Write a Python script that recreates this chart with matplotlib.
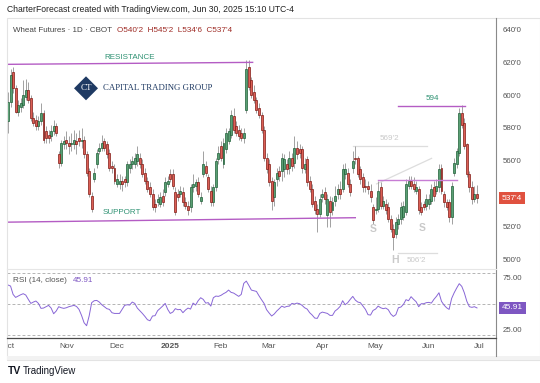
import matplotlib
matplotlib.use("Agg")
import matplotlib.pyplot as plt
import matplotlib.patches as mpatches
import matplotlib.transforms as mtransforms
from matplotlib.lines import Line2D
from matplotlib.ticker import FuncFormatter
import numpy as np
import pandas as pd

plt.rcParams['font.family'] = ['Liberation Sans', 'DejaVu Sans']

# ---------------- data ----------------
holidays = ['2024-11-28', '2024-12-25', '2025-01-01', '2025-01-09', '2025-01-20',
            '2025-02-17', '2025-04-18', '2025-05-26', '2025-06-19']

opens = [584,596,614,604,590,593,594,599,603,598,586,585,581,584,589,578,576,575,578,581,
         564,559,570,573,571,570,570,572,574,572,573,564,554,539,549,558,566,568,572,570,
         565,557,556,546,546,548,549,547,
         556,558,558,560,562,558,553,548,544,540,534,535,534,539,541,546,552,552,541,540,
         540,541,535,533,532,544,545,547,536,552,557,550,542,535,544,561,569,558,567,572,
         576,587,581,579,577,574,
         591,617,609,602,597,592,588,579,562,558,548,538,549,554,554,555,558,556,562,559,
         568,567,567,555,561,548,543,536,531,528,538,541,527,536,530,536,540,543,543,552,
         553,546,556,562,562,555,550,
         545,545,542,532,530,531,544,533,534,532,525,519,516,522,525,526,529,545,548,546,
         542,543,532,534,533,534,536,544,542,544,556,540,535,535,526,553,558,565,589,583,
         570,552,544,537,540.25]
highs = [602,616,617,606,597,598,609,610,608,600,590,588,587,595,591,581,579,582,585,583,
         566,573,575,578,575,577,579,577,579,580,575,566,556,541,556,567,571,576,574,572,
         567,560,558,552,552,551,551,560,
         561,563,565,569,565,561,556,550,547,543,537,540,541,543,550,551,555,555,544,543,
         545,544,538,536,546,552,549,550,541,566,560,552,545,546,562,569,572,574,580,580,
         591,592,584,582,580,580,
         621.5,621,611,606,599,595,590,581,565,561,550,549,556,557,565,564,561,566,565,575,
         572,570,569,562,563,551,546,539,534,540,543,544,540,539,538,545,546,548,558,559,
         556,549,566,569.25,563,557,553,
         549,548,546,534,538,548,547,539,537,535,527,522,526,528,535,536,549,551,551,550,
         548,545,535,536,540,540,546,548,549,558,558,542,537,537,547,562,568,592,594,586,
         571,554,548,545,545.25]
lows = [577,593,601,589,587,590,592,597,595,584,581,579,579,582,571,571,571,572,576,575,
        556,557,567,567,564,566,567,564,569,568,562,551,538,529,547,556,564,566,566,562,
        554,553,546,544,543,542,544,545,
        553,555,556,557,556,550,546,541,538,530,529,533,532,533,539,544,547,543,527,536,
        538,533,531,527,529,541,542,538,534,550,551,541,533,533,542,558,560,556,565,570,
        574,577,575,573,572,571,
        589,603,598,595,589,586,577,560,553,545,530,533,545,548,548,550,552,552,554,556,
        561,562,553,553,545,541,532,528,517,526,535,534,520,520,527,533,537,537,541,549,
        544,539,553,558,550,546,541,
        541,540,535,522,528,529,531,531,528,523,517,506.25,513,519,522,524,527,543,543,541,
        540,528,527,530,530,531,534,536,540,541,540,532,530,523,522,551,556,563,580,567,
        550,541,534,535,534.75]
closes = [596,612,604,590,594,595,600,603,597,586,583,581,584,589,573,574,574,578,581,577,
          559,571,572,571,569,571,573,570,572,573,564,553,540,531,553,565,568,571,568,564,
          556,556,548,549,548,546,547,558,
          558,560,562,564,558,552,548,543,540,532,532,537,538,535,547,548,549,545,529,538,
          542,535,533,530,544,546,547,540,538,558,553,543,535,544,560,565,562,571,577,578,
          588,579,577,575,574,577,
          616,605,600,597,591,588,579,562,555,547,536,547,553,551,562,561,555,562,557,568,
          564,565,556,558,547,543,534,530,528,537,540,537,537,529,535,539,543,540,555,555,
          546,541,560,561,552,549,544,
          544,543,538,524,531,542,533,536,530,525,519,514,523,525,532,533,546,548,545,543,
          544,530,529,532,537,537,543,539,545,555,542,535,532,526,545,559,566,589,582,569,
          552,544,537,540,537.5]
rsi = [68.1,67.1,59.0,56.1,57.4,58.7,59.7,58.4,54.2,50.3,
       51.6,52.6,50.3,45.5,45.8,47.1,48.4,45.8,40.3,42.9,
       47.1,46.1,45.5,46.1,47.1,47.7,48.4,47.4,44.5,38.7,
       31.6,28.7,38.1,51.0,52.9,53.2,51.6,49.0,47.1,45.2,
       44.5,41.3,40.6,40.6,40.6,44.5,48.4,49.0,48.7,51.6,
       50.3,45.8,43.2,40.6,37.7,34.5,33.5,38.1,38.4,43.2,
       45.5,47.7,50.3,44.5,40.6,41.9,45.2,44.2,44.5,41.3,
       43.9,45.8,44.8,50.6,48.7,52.9,55.8,54.2,50.6,51.0,
       47.7,55.8,57.4,57.1,58.1,59.7,61.0,63.2,61.0,60.3,
       58.7,57.1,59.0,69.7,71.9,67.7,63.2,62.6,61.9,57.7,
       53.9,50.3,44.2,41.0,38.1,40.0,42.9,45.2,47.7,46.5,
       47.4,47.7,50.3,49.7,50.6,50.0,48.4,46.1,44.8,41.3,
       39.0,36.1,35.8,40.6,41.9,41.3,40.6,38.7,38.7,42.9,
       44.8,47.4,52.9,49.0,51.0,54.2,57.1,53.5,51.6,51.0,
       47.7,44.5,39.4,39.0,43.5,44.8,47.7,46.1,45.2,45.8,
       44.2,40.0,37.7,39.4,46.1,46.8,49.4,53.9,52.9,56.8,
       54.2,51.9,47.1,50.0,50.0,51.0,51.3,50.6,54.2,57.1,
       60.6,52.3,48.7,46.1,44.5,55.1,60.6,65.2,69.4,66.8,
       60.6,52.3,47.1,46.5,47.1,45.91]

# axis labels (the 540'0 and 50.00 labels sit behind the value tags in the reference)
price_ticks = [500, 520, 560, 580, 600, 620, 640]
rsi_ticks = [25, 75]
rsi_bands = [20, 50, 80]
month_names = ["Oct", "Nov", "Dec", "2025", "Feb", "Mar", "Apr", "May", "Jun", "Jul"]

# drawn levels (bar index, price)
res_x, res_y = [-0.3, 96.5], [618.6, 619.8]
sup_x, sup_y = [-0.3, 137.0], [522.9, 525.6]
top_x, top_y = [153.8, 180.3], 593.5
h569_x, h569_y = [136.0, 165.2], 569.25
neck_x, neck_y = [146.0, 177.0], 548.5
diag_x, diag_y = [145.4, 167.1], [546.1, 561.6]
low_x, low_y = [154.0, 169.1], 504.1

# ---------------- figure ----------------
W, H = 540, 383
fig = plt.figure(figsize=(W / 100, H / 100), dpi=100)
fig.patch.set_facecolor('white')

def fx(px):
    return px / W

def fy(py):
    return 1 - py / H

L, R = 6.5, 496.0
ax = fig.add_axes([fx(L), fy(268.5), fx(R) - fx(L), fy(18) - fy(268.5)])
rax = fig.add_axes([fx(L), fy(337.7), fx(R) - fx(L), fy(268.7) - fy(337.7)])
tax = fig.add_axes([fx(L), fy(356), fx(R) - fx(L), fy(337.7) - fy(356)])

dates = pd.bdate_range('2024-10-01', '2025-06-30', freq='C', holidays=holidays)
n = len(closes)
idx = np.arange(n)

for a in (ax, rax, tax):
    a.set_xlim(-0.6, 192.5)
    a.set_facecolor('none')
    for s in a.spines.values():
        s.set_visible(False)
    a.set_xticks([])

ax.set_ylim(494.8, 646.7)
rax.set_ylim(17.1, 83.9)
tax.set_ylim(0, 1)
tax.set_yticks([])

# candles
up_fill, up_edge = '#5a9f74', '#1d5e36'
dn_fill, dn_edge = '#dc5f55', '#7f1a14'
o = np.array(opens, float); c = np.array(closes, float)
hgh = np.array(highs, float); lw_ = np.array(lows, float)
up = c >= o
ax.vlines(idx, lw_, hgh, color='#9a9a9a', lw=0.65, zorder=2)
body_h = np.where(np.abs(c - o) < 0.6, 0.6, np.abs(c - o))
body_b = np.minimum(o, c)
ax.bar(idx[up], body_h[up], bottom=body_b[up], width=0.78,
       color=up_fill, edgecolor=up_edge, linewidth=0.5, zorder=3)
ax.bar(idx[~up], body_h[~up], bottom=body_b[~up], width=0.78,
       color=dn_fill, edgecolor=dn_edge, linewidth=0.5, zorder=3)

# price axis
def cents(v, pos=None):
    whole = int(np.floor(v + 1e-9))
    eighth = int(round((v - whole) * 8))
    return f"{whole}'{eighth}"

ax.yaxis.tick_right()
ax.set_yticks(price_ticks)
ax.yaxis.set_major_formatter(FuncFormatter(cents))
ax.tick_params(axis='y', length=0, pad=5, labelsize=5.7, labelcolor='#555555')

# levels
purple = '#b45cc4'
ax.plot(res_x, res_y, color=purple, lw=1.0, zorder=4)
ax.plot(sup_x, sup_y, color=purple, lw=1.0, zorder=4)
ax.plot(top_x, [top_y, top_y], color=purple, lw=1.0, zorder=4)
ax.plot(neck_x, [neck_y, neck_y], color='#c77dd4', lw=1.0, zorder=4)
ax.plot(h569_x, [h569_y, h569_y], color='#dddddd', lw=0.9, zorder=1)
ax.plot(diag_x, diag_y, color='#dddddd', lw=0.9, zorder=1)
ax.plot(low_x, [low_y, low_y], color='#dddddd', lw=0.9, zorder=1)

teal = '#2f9273'
ax.text(48.0, 623.0, 'RESISTANCE', color=teal, fontsize=5.8, ha='center', va='center')
ax.text(45.0, 528.6, 'SUPPORT', color=teal, fontsize=5.8, ha='center', va='center')
ax.text(167.3, 597.6, '594', color=teal, fontsize=5.8, ha='center', va='center')
light = '#c9c9c9'
ax.text(150.3, 573.6, cents(h569_y), color=light, fontsize=5.8, ha='center', va='center')
ax.text(144.1, 518.6, 'S', color=light, fontsize=7.5, ha='center', va='center', fontweight='bold')
ax.text(163.2, 519.2, 'S', color=light, fontsize=7.5, ha='center', va='center', fontweight='bold')
ax.text(152.7, 500.0, 'H', color=light, fontsize=7.5, ha='center', va='center', fontweight='bold')
ax.text(161.2, 499.8, cents(506.25), color=light, fontsize=5.8, ha='center', va='center')

# last price tag
bt = mtransforms.blended_transform_factory(ax.transAxes, ax.transData)
ax.text(1.012, closes[-1], cents(closes[-1]), transform=bt, color='white', fontsize=6.0,
        ha='left', va='center', zorder=10, clip_on=False,
        bbox=dict(boxstyle='square,pad=0.35', fc='#e0513f', ec='none'))

# RSI
for b in rsi_bands:
    rax.axhline(b, color='#a8a8a8', lw=0.6, ls=(0, (3.5, 2.5)), zorder=1)
rax.plot(idx, rsi, color='#8866d6', lw=0.7, zorder=3)
rax.yaxis.tick_right()
rax.set_yticks(rsi_ticks)
rax.yaxis.set_major_formatter(FuncFormatter(lambda v, p: f"{v:.2f}"))
rax.tick_params(axis='y', length=0, pad=5, labelsize=5.7, labelcolor='#555555')
bt2 = mtransforms.blended_transform_factory(rax.transAxes, rax.transData)
rax.text(1.012, rsi[-1], f"{rsi[-1]:.2f}", transform=bt2, color='white', fontsize=6.0,
         ha='left', va='center', zorder=10, clip_on=False,
         bbox=dict(boxstyle='square,pad=0.35', fc='#7e57c2', ec='none'))

# time axis
month_pos = [0]
for k in range(1, n):
    if dates[k].month != dates[k - 1].month:
        month_pos.append(k)
month_pos.append(n)
for pos, name in zip(month_pos, month_names):
    tax.text(pos, 0.5, name, ha='center', va='center', fontsize=6.0, color='#555555',
             fontweight='bold' if name == '2025' else 'normal', clip_on=True)

# frame / decorations
fig.add_artist(mpatches.Rectangle((fx(L), fy(360)), fx(540) - fx(L), fy(18) - fy(360),
                                  transform=fig.transFigure, fill=False, ec='#e3e3e3', lw=0.8))
fig.add_artist(mpatches.Rectangle((fx(L), fy(360)), fx(540) - fx(L), fy(356) - fy(360),
                                  transform=fig.transFigure, fc='#f2f2f2', ec='none'))
fig.add_artist(Line2D([fx(R), fx(R)], [fy(18), fy(356)], transform=fig.transFigure,
                      color='#8a8a8a', lw=0.8))
fig.add_artist(Line2D([fx(L), fx(R)], [fy(337.7), fy(337.7)], transform=fig.transFigure,
                      color='#4a4a4a', lw=0.9))
fig.add_artist(Line2D([fx(L), fx(R)], [fy(268.7), fy(268.7)], transform=fig.transFigure,
                      color='#e6e6e6', lw=0.8))

fig.text(fx(7), fy(10), 'CharterForecast created with TradingView.com, Jun 30, 2025 15:10 UTC-4',
         fontsize=6.2, color='#222222', va='center', ha='left')
fig.text(fx(12.7), fy(30), 'Wheat Futures · 1D · CBOT', fontsize=5.8, color='#444444',
         va='center', ha='left')
fig.text(fx(117), fy(30), "O540'2  H545'2  L534'6  C537'4", fontsize=5.9, color='#9e2b25',
         va='center', ha='left')
fig.text(fx(12.7), fy(281), 'RSI (14, close)', fontsize=5.9, color='#555555',
         va='center', ha='left')
fig.text(fx(73), fy(281), f"{rsi[-1]:.2f}", fontsize=5.9, color='#7e57c2',
         va='center', ha='left')

# logo
navy = '#1f3a63'
fig.add_artist(mpatches.RegularPolygon((0.86, (H - 88.3) / 100), numVertices=4, radius=0.12,
                                       transform=fig.dpi_scale_trans, fc=navy, ec='none'))
fig.text(fx(86), fy(88.5), 'CT', fontsize=6.5, color='white', ha='center', va='center',
         family=['Liberation Serif', 'DejaVu Serif'])
fig.text(fx(103), fy(88.5), 'CAPITAL TRADING GROUP', fontsize=6.3, color=navy,
         ha='left', va='center', family=['Liberation Serif', 'DejaVu Serif'])

# footer
fig.text(fx(7.5), fy(371), 'TV', fontsize=7.5, color='#131722', fontweight='heavy',
         ha='left', va='center')
fig.text(fx(22.5), fy(371), 'TradingView', fontsize=7.0, color='#131722',
         ha='left', va='center')

fig.savefig('out.png', dpi=100)
